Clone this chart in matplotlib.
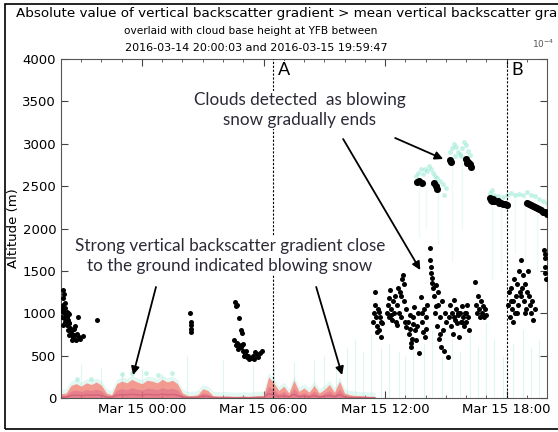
import numpy as np
import pandas as pd
import matplotlib
matplotlib.use('Agg')
import matplotlib.pyplot as plt
import matplotlib.dates as mdates
from matplotlib.patches import Rectangle

# ---- data (hours after 2016-03-14 20:00:03, altitude in m) ----
start = pd.Timestamp('2016-03-14 20:00:03')
end = pd.Timestamp('2016-03-15 19:59:47')

# cloud base height, low clouds
cbh_low_t = [0.05, 0.08, 0.10, 0.12, 0.15, 0.18, 0.20, 0.22, 0.25, 0.28, 0.30, 0.33, 0.35, 0.38,
             0.40, 0.42, 0.45, 0.48, 0.50, 0.52, 0.55, 0.58, 0.60, 0.62, 0.65, 0.68, 0.70, 0.75,
             0.80, 0.85, 0.90, 0.95, 1.10, 0.10, 0.15, 0.05, 0.20, 0.30, 0.12, 0.25, 0.40, 0.35, 1.76,
             6.38, 6.40, 6.42, 6.44, 6.40,
             8.60, 8.65, 8.70, 8.80, 8.90, 8.95, 8.55, 8.70, 8.80, 8.90, 8.75, 9.00, 9.10, 9.05,
             9.20, 9.30, 9.25, 9.15, 9.40, 9.50, 9.60, 9.70, 9.75, 9.85, 9.90, 9.55, 8.95, 9.00, 8.65,
             15.40, 15.45, 15.50, 15.55, 15.60, 15.65, 15.70, 15.75, 15.80, 15.85, 15.50, 15.60, 15.70, 15.80,
             16.10, 16.15, 16.20, 16.25, 16.30, 16.35, 16.40, 16.20, 16.30,
             16.45, 16.50, 16.55, 16.60, 16.65, 16.70, 16.75, 16.80, 16.85, 16.90, 16.95, 17.00, 17.05,
             16.60, 16.80, 16.95, 17.05,
             17.15, 17.20, 17.25, 17.30, 17.35, 17.40, 17.45, 17.50, 17.55, 17.30, 17.40, 17.25,
             17.60, 17.65, 17.70, 17.75, 17.80, 17.85, 17.90, 17.95, 18.00, 18.05, 17.80, 18.00,
             18.20, 18.22, 18.25, 18.28, 18.30, 18.33, 18.35,
             18.40, 18.45, 18.50, 18.55, 18.60, 18.65, 18.70, 18.75, 18.80, 18.85, 18.90, 18.95, 19.00,
             19.10, 18.60, 18.70, 18.50,
             19.15, 19.20, 19.25, 19.30, 19.35, 19.40, 19.45, 19.50, 19.55, 19.60, 19.65, 19.70, 19.75,
             19.80, 19.85, 19.90, 19.95, 20.00, 20.05, 20.10, 20.15, 19.40, 19.60, 19.80, 20.00,
             20.45, 20.50, 20.55, 20.60, 20.65, 20.70, 20.75, 20.80, 20.85, 20.90, 20.95, 21.00,
             22.05, 22.10, 22.15, 22.20, 22.25, 22.30, 22.35, 22.40, 22.45, 22.50, 22.55, 22.60, 22.65,
             22.70, 22.75, 22.80, 22.85, 22.90, 22.95, 23.00, 23.05, 23.10, 23.15, 23.20, 23.25, 23.30,
             23.40, 22.30, 22.50, 22.20, 22.70, 22.90,
             23.85, 23.88, 23.90, 23.92, 23.94, 23.90]
cbh_low_alt = [960, 1100, 1020, 1180, 1230, 1000, 1120, 900, 980, 860, 950, 1000, 920, 880,
               990, 740, 830, 800, 790, 690, 760, 720, 720, 810, 700, 850, 740, 680,
               760, 955, 720, 700, 730, 1270, 940, 1050, 1060, 1020, 860, 900, 880, 800, 925,
               1000, 900, 860, 820, 780,
               1130, 1080, 1100, 945, 800, 770, 680, 650, 620, 600, 580, 560, 520, 500,
               480, 460, 500, 550, 470, 500, 540, 520, 480, 530, 550, 460, 620, 640, 620,
               900, 1000, 1100, 950, 850, 1050, 800, 950, 720, 880, 1250, 780, 1020, 900,
               1000, 1100, 950, 1270, 1050, 920, 1150, 1180, 980,
               1000, 1200, 900, 1100, 1300, 1000, 1250, 950, 1400, 1450, 1150, 900, 1050,
               860, 1200, 1350, 840,
               900, 750, 820, 650, 700, 950, 1075, 800, 680, 600, 870, 980,
               850, 1000, 530, 1190, 900, 780, 1050, 720, 950, 1100, 1000, 820,
               1770, 1630, 1550, 1480, 1420, 1360, 1300,
               1200, 1000, 1330, 850, 1100, 700, 950, 600, 1150, 800, 560, 1000, 900,
               480, 1250, 750, 1080,
               950, 1100, 850, 1000, 750, 1160, 920, 1050, 880, 980, 720, 1000, 900,
               1080, 950, 850, 1000, 900, 1100, 950, 800, 950, 1000, 900, 1000,
               1370, 1100, 1000, 1200, 1050, 950, 1150, 1000, 1080, 950, 1050, 980,
               1100, 1250, 950, 1300, 1050, 1150, 1400, 1000, 1200, 1350, 1100, 1500, 1250,
               1630, 1300, 1450, 1150, 1350, 1050, 1250, 1500, 1200, 1100, 1000, 1150, 920,
               1050, 900, 1000, 1150, 1200, 1000,
               1750, 1650, 1550, 1480, 1400, 1700]

# cloud base height, upper cloud decks
cbh_high_t = [17.60, 17.70, 17.80, 18.40, 18.50, 18.55,
              19.20, 19.25, 20.00, 20.05, 20.10, 20.20, 20.25,
              21.20, 21.25, 21.30, 21.35, 21.40, 21.50, 21.60, 21.65, 21.70, 21.80, 21.90, 22.00,
              23.00, 23.10, 23.20, 23.30, 23.40, 23.50, 23.60, 23.70, 23.80, 23.90, 24.00]
cbh_high_alt = [2550, 2560, 2540, 2540, 2500, 2470,
                2810, 2790, 2820, 2770, 2790, 2760, 2730,
                2360, 2340, 2330, 2350, 2330, 2320, 2320, 2300, 2300, 2290, 2290, 2280,
                2300, 2290, 2280, 2260, 2250, 2240, 2230, 2220, 2200, 2190, 2170]

# gradient mask, cloud tops (cyan)
grad_cloud_t = [17.55, 17.65, 17.75, 17.85, 17.95, 18.05, 18.15, 18.25, 18.35, 18.45, 18.55, 18.70,
                18.85, 19.00, 18.60, 18.90,
                19.20, 19.30, 19.40, 19.50, 19.60, 19.70, 19.80, 19.90, 20.00, 20.10, 20.20, 19.45, 19.75,
                21.20, 21.30, 21.40, 21.60, 21.80, 22.00, 22.20, 22.40, 22.60, 22.80, 23.00, 23.20,
                23.40, 23.60, 23.80, 24.00,
                0.80, 1.50, 3.00, 3.50, 4.20, 4.80, 5.50]
grad_cloud_alt = [2620, 2660, 2700, 2640, 2700, 2680, 2740, 2700, 2660, 2620, 2600, 2560,
                  2520, 2480, 2450, 2400,
                  2900, 2950, 3000, 2960, 2900, 2880, 2950, 3020, 2980, 2920, 2870, 2860, 2850,
                  2420, 2450, 2400, 2380, 2370, 2400, 2420, 2400, 2410, 2400, 2430, 2400,
                  2380, 2350, 2320, 2300,
                  230, 220, 280, 300, 290, 270, 300]

# faint vertical gradient streaks (time, top altitude)
streak_t = [1.0, 2.0, 3.0, 4.0, 5.0, 6.2, 8.0, 9.5, 10.5, 11.5,
            12.5, 13.0, 13.6, 14.1, 14.5, 14.9, 15.3, 15.8, 16.2, 16.7, 17.0, 17.4, 17.9,
            18.3, 18.8, 19.3, 19.7, 20.2, 20.6, 21.0, 21.4, 21.8, 22.3, 22.8, 23.2, 23.6]
streak_top = [400, 350, 300, 350, 300, 500, 450, 400, 380, 420,
              450, 500, 350, 600, 700, 550, 750, 600, 650, 550, 500, 700, 650,
              800, 500, 700, 550, 800, 600, 900, 700, 500, 650, 800, 600, 700]
haze_t = [17.7, 18.0, 18.6, 19.3, 19.8, 21.3, 21.7, 22.4, 22.9, 23.5]
haze_bottom = [1900, 2000, 1800, 1600, 2000, 1400, 1500, 1700, 1600, 1500]
haze_top = [2500, 2550, 2450, 2800, 2850, 2330, 2300, 2380, 2380, 2300]

# near-ground blowing snow layer top, every 15 min from 20:00
snow_top = [50, 60, 150, 170, 140, 180, 160, 190, 150, 60, 40, 170, 200, 180, 220, 190,
            170, 210, 200, 180, 220, 190, 210, 170, 60, 30, 30, 40, 110, 90, 30, 25,
            25, 25, 20, 20, 25, 20, 25, 30, 30, 250, 180, 90, 140, 60, 210, 80,
            120, 70, 150, 60, 100, 160, 70, 200, 60, 40, 30, 30, 25, 20, 20]

event_t = [10.47, 22.0]
event_lbl = ['A', 'B']


def hnum(h):
    return mdates.date2num(start.to_pydatetime()) + np.asarray(h, dtype=float) / 24.0


fig = plt.figure(figsize=(5.58, 4.32), dpi=100)
ax = fig.add_axes([0.1093, 0.0787, 0.871, 0.7847])

# blowing snow layer
snow_t = 0.25 * np.arange(len(snow_top))
snow_top = np.array(snow_top, dtype=float)
ax.fill_between(hnum(snow_t), 0, snow_top, color='#f07a6c', alpha=0.75, lw=0, zorder=2)
ax.fill_between(hnum(snow_t), 0, snow_top * 0.55, color='#d9608a', alpha=0.45, lw=0, zorder=2)
ax.fill_between(hnum(snow_t), snow_top, snow_top + 50, color='#a6e8d8', alpha=0.3, lw=0, zorder=2)
ax.plot(hnum(snow_t), snow_top * 0.2, color='#c8506e', lw=1.0, alpha=0.6, zorder=2)

# faint streaks
ax.vlines(hnum(streak_t), 0, streak_top, color='#86dcc6', lw=0.8, alpha=0.25, zorder=1)
ax.vlines(hnum(haze_t), haze_bottom, haze_top, color='#9fe8d6', lw=1.0, alpha=0.2, zorder=1)
ax.scatter(hnum(grad_cloud_t), grad_cloud_alt, s=12, marker='o', color='#7fe3c9',
           alpha=0.45, lw=0, zorder=2)

# cloud base height
ax.scatter(hnum(cbh_low_t), cbh_low_alt, s=13, color='black', lw=0, zorder=4)
ax.scatter(hnum(cbh_high_t), cbh_high_alt, s=26, color='black', lw=0, zorder=4)

# event lines
for t, lbl in zip(event_t, event_lbl):
    ax.axvline(hnum(t), color='black', lw=0.8, ls=(0, (2, 1.5)), zorder=3)
    ax.text(hnum(t + 0.25), 3870, lbl, fontsize=13, family='Lato', va='center', ha='left',
            zorder=6, bbox=dict(facecolor='white', edgecolor='none', pad=1))

ax.set_xlim(start, end)
ax.set_ylim(0, 4000)
ax.set_yticks(np.arange(0, 4001, 500))
ax.xaxis.set_major_locator(mdates.HourLocator(byhour=[0, 6, 12, 18]))
ax.xaxis.set_minor_locator(mdates.HourLocator())
ax.xaxis.set_major_formatter(mdates.DateFormatter('%b %d %H:%M'))
ax.tick_params(which='both', direction='in', top=True, right=True, labelsize=9.5, color='#444444')
ax.tick_params(which='major', length=5)
ax.tick_params(which='minor', length=2.5)
for s in ax.spines.values():
    s.set_color('#555555')
ax.set_ylabel('Altitude (m)', fontsize=9.5, labelpad=2)

# annotations
txt_kw = dict(family='Lato', fontsize=12.3, color='#2b2b38', ha='center', va='center', zorder=6,
              linespacing=1.3, bbox=dict(facecolor='white', edgecolor='none', pad=1))
ax.text(hnum(11.8), 3400, 'Clouds detected  as blowing\nsnow gradually ends', **txt_kw)
ax.text(hnum(8.35), 1680, 'Strong vertical backscatter gradient close\nto the ground indicated blowing snow',
        **txt_kw)
arrow_kw = dict(arrowstyle='-|>', color='black', lw=1.3, mutation_scale=12, shrinkA=0, shrinkB=0)
arrows = [((16.5, 3068), (18.87, 2820)), ((13.93, 3056), (17.74, 1510)),
          ((4.69, 1310), (3.56, 271)), ((12.6, 1310), (13.88, 271))]
for (t0, a0), (t1, a1) in arrows:
    ax.annotate('', xy=(hnum(t1), a1), xytext=(hnum(t0), a0), arrowprops=arrow_kw, zorder=7)

# title (cropped screenshot)
fig.text(16 / 558, 1 - 14 / 432,
         'Absolute value of vertical backscatter gradient > mean vertical backscatter gradient',
         fontsize=9.7, ha='left', va='center')
fig.text(251 / 558, 1 - 31 / 432, 'overlaid with cloud base height at YFB between',
         fontsize=7.6, ha='center', va='center')
fig.text(256 / 558, 1 - 48 / 432, '2016-03-14 20:00:03 and 2016-03-15 19:59:47',
         fontsize=8.0, ha='center', va='center')
fig.text(532 / 558, 1 - 44 / 432, '$10^{-4}$', fontsize=6.5, color='#555555', ha='left', va='center')

# frame of the screenshot
fig.patches.append(Rectangle((5 / 558, 3 / 432), 600 / 558, 425 / 432, transform=fig.transFigure,
                             fill=False, edgecolor='black', lw=1.2))

fig.savefig('out.png', dpi=100)
